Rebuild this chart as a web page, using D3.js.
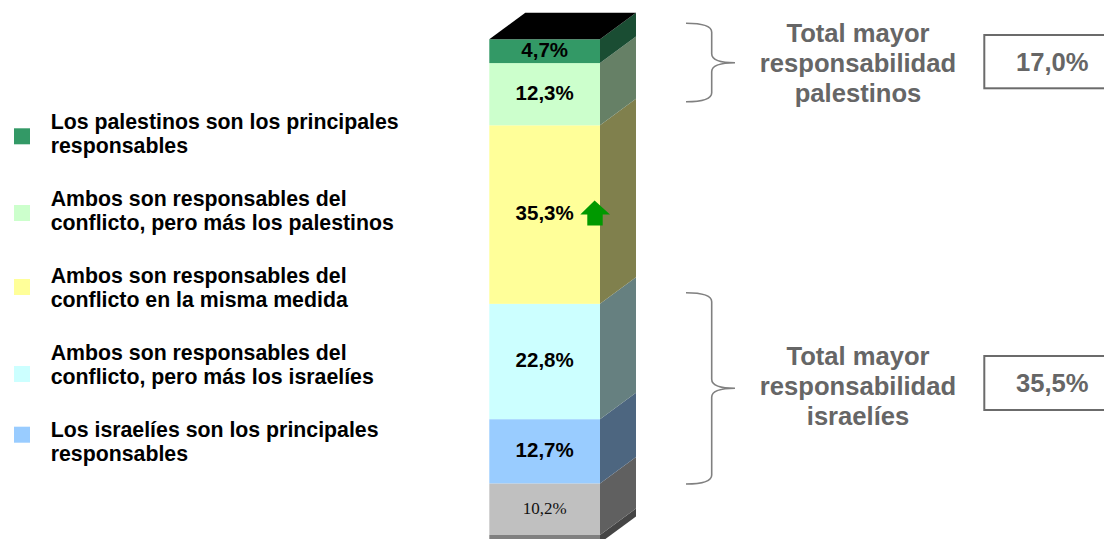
<!DOCTYPE html>
<html lang="es">
<head>
<meta charset="utf-8">
<script src="https://cdn.jsdelivr.net/npm/d3@7"></script>
<style>
  html, body { margin: 0; padding: 0; background: #ffffff; }
  svg { display: block; }
</style>
</head>
<body>
<div id="chart"></div>
<script>
// Stack segments, bottom to top
const segmentKeys = ["nsnc", "isrPrincipal", "ambosIsr", "ambosIgual", "ambosPal", "palPrincipal"];
const segmentValues = [10.2, 12.7, 22.8, 35.3, 12.3, 4.7];
const segmentFront = ["#c0c0c0", "#99ccff", "#ccffff", "#ffff99", "#ccffcc", "#339966"];
const segmentSide = ["#606060", "#4d6680", "#668080", "#80804d", "#668066", "#1a4d33"];

// Legend entries, top to bottom (the gray "Ns/Nc" segment has no entry)
const legendKeys = ["palPrincipal", "ambosPal", "ambosIgual", "ambosIsr", "isrPrincipal"];
const legendLabels = [
  ["Los palestinos son los principales", "responsables"],
  ["Ambos son responsables del", "conflicto, pero más los palestinos"],
  ["Ambos son responsables del", "conflicto en la misma medida"],
  ["Ambos son responsables del", "conflicto, pero más los israelíes"],
  ["Los israelíes son los principales", "responsables"]
];

// Grouped totals shown on the right
const groupTitles = [
  ["Total mayor", "responsabilidad", "palestinos"],
  ["Total mayor", "responsabilidad", "israelíes"]
];
const groupMembers = [
  ["palPrincipal", "ambosPal"],
  ["ambosIsr", "isrPrincipal"]
];

// Segment that carries the "up" arrow
const risingKey = "ambosIgual";

const W = 1104, H = 539;
const svg = d3.select("#chart").append("svg")
  .attr("width", W).attr("height", H)
  .attr("viewBox", `0 0 ${W} ${H}`);
svg.append("rect").attr("width", W).attr("height", H).attr("fill", "#ffffff");

const fmt = v => d3.format(".1f")(v).replace(".", ",") + "%";
const valueOf = Object.fromEntries(segmentKeys.map((k, i) => [k, segmentValues[i]]));
const colorOf = Object.fromEntries(segmentKeys.map((k, i) => [k, segmentFront[i]]));

// ---- 3D stacked column ----
const row = Object.fromEntries(segmentKeys.map((k, i) => [k, segmentValues[i]]));
const stacked = d3.stack().keys(segmentKeys)([row]);
const total = d3.sum(segmentValues);

const x = d3.scaleBand().domain(["total"]).range([489.3, 600]).paddingInner(0).paddingOuter(0);
const y = d3.scaleLinear().domain([0, total]).range([535, 39.3]);
const depthX = 36, depthY = 26.5;
const bx0 = x("total"), bx1 = bx0 + x.bandwidth();

const bar = svg.append("g").attr("class", "bar");

// floor slab under the column
const floorT = 8;
bar.append("rect")
  .attr("x", bx0).attr("y", y(0)).attr("width", bx1 - bx0).attr("height", floorT)
  .attr("fill", "#808080");
bar.append("polygon")
  .attr("points", [[bx1, y(0)], [bx1 + depthX, y(0) - depthY], [bx1 + depthX, y(0) - depthY + floorT], [bx1, y(0) + floorT]].join(" "))
  .attr("fill", "#454545");

stacked.forEach((s, i) => {
  const d = s[0];
  const yTop = y(d[1]), yBot = y(d[0]);
  // side face
  bar.append("polygon")
    .attr("points", [[bx1, yBot], [bx1, yTop], [bx1 + depthX, yTop - depthY], [bx1 + depthX, yBot - depthY]].join(" "))
    .attr("fill", segmentSide[i]);
  // front face
  bar.append("rect")
    .attr("x", bx0).attr("y", yTop).attr("width", bx1 - bx0).attr("height", yBot - yTop)
    .attr("fill", segmentFront[i]);
});

// top face
const yMax = y(total);
bar.append("polygon")
  .attr("points", [[bx0, yMax], [bx1, yMax], [bx1 + depthX, yMax - depthY], [bx0 + depthX, yMax - depthY]].join(" "))
  .attr("fill", "#000000");

// value labels
stacked.forEach((s, i) => {
  const d = s[0];
  const mid = (y(d[0]) + y(d[1])) / 2 - 1.5;
  const isOther = s.key === "nsnc";
  bar.append("text")
    .attr("x", (bx0 + bx1) / 2)
    .attr("y", mid)
    .attr("dy", "0.36em")
    .attr("text-anchor", "middle")
    .attr("font-family", isOther ? "'Liberation Serif', 'Times New Roman', serif" : "'Liberation Sans', Arial, sans-serif")
    .attr("font-weight", isOther ? "normal" : "bold")
    .attr("font-size", isOther ? 17 : 20.5)
    .attr("fill", isOther ? "#111111" : "#000000")
    .text(fmt(segmentValues[i]));
});

// up arrow beside the rising segment
const rs = stacked.find(s => s.key === risingKey)[0];
const ay = (y(rs[0]) + y(rs[1])) / 2 - 1.5;
const ax = 594.6;
bar.append("polygon")
  .attr("points", [
    [ax, ay - 12.5], [ax + 15.4, ay + 1.5], [ax + 8.1, ay + 1.5], [ax + 8.1, ay + 12.5],
    [ax - 7.3, ay + 12.5], [ax - 7.3, ay + 1.5], [ax - 14.3, ay + 1.5]
  ].join(" "))
  .attr("fill", "#009900");

// ---- legend ----
const legend = svg.append("g").attr("class", "legend")
  .attr("font-family", "'Liberation Sans', Arial, sans-serif")
  .attr("font-weight", "bold")
  .attr("font-size", 21.3)
  .attr("fill", "#000000");
const legendTop = 129.3, legendStep = 77, lineH = 24;
const keyOffset = [-1, -1.3, -4.3, 5.7, -10.6];
legendKeys.forEach((k, i) => {
  const base = legendTop + i * legendStep;
  legend.append("rect")
    .attr("x", 14).attr("y", base + keyOffset[i]).attr("width", 16).attr("height", 16)
    .attr("fill", colorOf[k]);
  const t = legend.append("text").attr("x", 50.7).attr("y", base);
  legendLabels[i].forEach((ln, j) => {
    t.append("tspan").attr("x", 50.7).attr("y", base + j * lineH).text(ln);
  });
});

// ---- grouped totals with braces ----
const braces = [
  { y0: 23.3, yc: 62.7, y1: 101.7, textBase: 41.7, boxY: 35, boxH: 53.3 },
  { y0: 292.7, yc: 388.3, y1: 484, textBase: 365, boxY: 356, boxH: 54 }
];
const ann = svg.append("g").attr("class", "groups");
braces.forEach((b, gi) => {
  const L = 686, M = 711.7, T = 735, r = 9;
  const p = d3.path();
  p.moveTo(L, b.y0);
  p.quadraticCurveTo(M, b.y0, M, b.y0 + r);
  p.lineTo(M, b.yc - r);
  p.quadraticCurveTo(M, b.yc, T, b.yc);
  p.quadraticCurveTo(M, b.yc, M, b.yc + r);
  p.lineTo(M, b.y1 - r);
  p.quadraticCurveTo(M, b.y1, L, b.y1);
  ann.append("path").attr("d", p.toString())
    .attr("fill", "none").attr("stroke", "#808080").attr("stroke-width", 1.6);

  const t = ann.append("text")
    .attr("font-family", "'Liberation Sans', Arial, sans-serif")
    .attr("font-weight", "bold").attr("font-size", 25.6)
    .attr("fill", "#666666").attr("text-anchor", "middle");
  groupTitles[gi].forEach((ln, j) => {
    t.append("tspan").attr("x", 858).attr("y", b.textBase + j * 30).text(ln);
  });

  ann.append("rect")
    .attr("x", 984.3).attr("y", b.boxY).attr("width", 140).attr("height", b.boxH)
    .attr("fill", "#ffffff").attr("stroke", "#6b6b6b").attr("stroke-width", 2);
  const sum = d3.sum(groupMembers[gi], k => valueOf[k]);
  ann.append("text")
    .attr("x", 1052.3).attr("y", b.boxY + b.boxH / 2).attr("dy", "0.36em")
    .attr("text-anchor", "middle")
    .attr("font-family", "'Liberation Sans', Arial, sans-serif")
    .attr("font-weight", "bold").attr("font-size", 25.6)
    .attr("fill", "#666666")
    .text(fmt(sum));
});
</script>
</body>
</html>
